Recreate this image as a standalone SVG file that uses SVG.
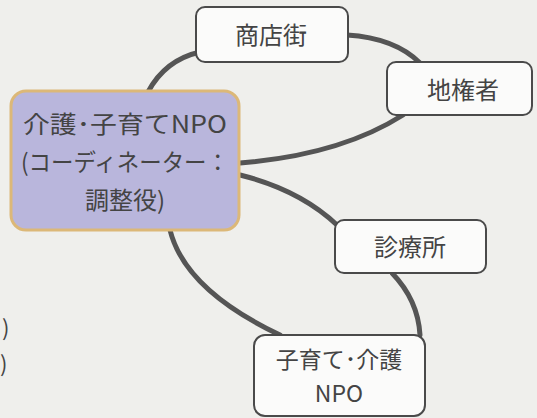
<svg xmlns="http://www.w3.org/2000/svg" width="537" height="418" viewBox="0 0 537 418">
<style>
.node rect{fill:#fbfbfa;stroke:#4a4a4a;stroke-width:2}
#center rect{fill:#b9b6dc;stroke:#dcb878;stroke-width:3}
text{font-family:"Noto Sans CJK JP","Noto Sans",sans-serif;fill:#444;text-anchor:middle;dominant-baseline:central}
.t{font-size:24px}
.c{font-size:24px}
.n{font-size:23px}
.e{font-size:22px;text-anchor:start}
#connectors path{fill:none;stroke:#555;stroke-width:5;stroke-linecap:round}
</style>
<rect width="537" height="418" fill="#efefec"/>
<g id="connectors">
<path d="M148,92 Q165,60 200,52"/>
<path d="M347,35 Q395,38 420,63"/>
<path d="M240,163 Q340,155 403,115"/>
<path d="M240,175 Q300,190 337,225"/>
<path d="M170,230 Q185,290 280,335"/>
<path d="M392,273 Q418,300 420,335"/>
</g>
<g id="center">
<rect x="11" y="91" width="228" height="139" rx="15"/>
<text class="c" x="125" y="122" textLength="204" lengthAdjust="spacingAndGlyphs">介護･子育てNPO</text>
<text class="c" x="125" y="160" textLength="208" lengthAdjust="spacingAndGlyphs">(コーディネーター：</text>
<text class="c" x="125" y="198">調整役)</text>
</g>
<g id="shotengai" class="node">
<rect x="196" y="7" width="152" height="55" rx="9"/>
<text class="t" x="271" y="33">商店街</text>
</g>
<g id="jikensha" class="node">
<rect x="387" y="62" width="145" height="53" rx="9"/>
<text class="t" x="463" y="88">地権者</text>
</g>
<g id="shinryojo" class="node">
<rect x="335" y="220" width="151" height="53" rx="9"/>
<text class="t" x="410" y="245">診療所</text>
</g>
<g id="npo2" class="node">
<rect x="254" y="335" width="171" height="81" rx="11"/>
<text class="n" x="339" y="358">子育て･介護</text>
<text class="n" x="339" y="392">NPO</text>
</g>
<text class="e" x="2" y="326">)</text>
<text class="e" x="0" y="362">)</text>
</svg>
